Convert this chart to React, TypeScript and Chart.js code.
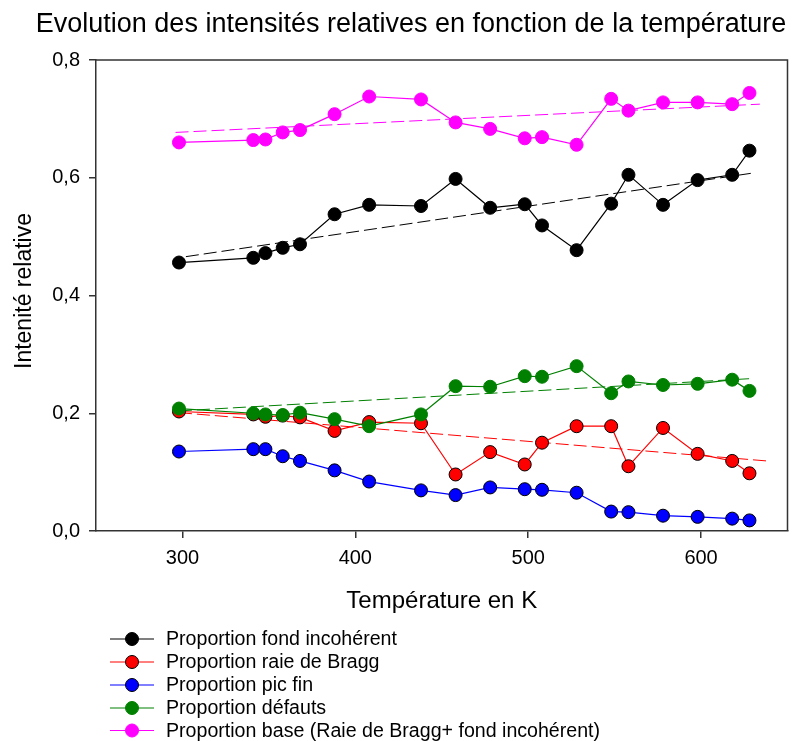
import React, { useEffect, useRef } from 'react';
import { Chart, registerables } from 'chart.js';

Chart.register(...registerables);

const FONT = '"Liberation Sans", Arial, Helvetica, sans-serif';

// Temperatures (K)
const temperatures = [298, 341, 348, 358, 368, 388, 408, 438, 458, 478, 498, 508, 528, 548, 558, 578, 598, 618, 628];

// Relative intensities
const fondIncoherent = [0.456, 0.464, 0.472, 0.481, 0.487, 0.538, 0.554, 0.552, 0.598, 0.549, 0.555, 0.519, 0.477, 0.556, 0.605, 0.554, 0.596, 0.605, 0.646];
const raieBragg = [0.203, 0.198, 0.194, 0.196, 0.193, 0.170, 0.185, 0.183, 0.096, 0.134, 0.113, 0.150, 0.178, 0.178, 0.110, 0.175, 0.131, 0.119, 0.098];
const picFin = [0.135, 0.139, 0.139, 0.127, 0.119, 0.103, 0.084, 0.069, 0.061, 0.074, 0.071, 0.070, 0.065, 0.033, 0.032, 0.026, 0.024, 0.021, 0.018];
const defauts = [0.208, 0.200, 0.198, 0.197, 0.201, 0.190, 0.178, 0.198, 0.246, 0.245, 0.263, 0.262, 0.280, 0.234, 0.254, 0.248, 0.250, 0.257, 0.238];
const base = [0.660, 0.664, 0.665, 0.677, 0.681, 0.708, 0.738, 0.733, 0.694, 0.683, 0.667, 0.669, 0.656, 0.734, 0.714, 0.728, 0.728, 0.725, 0.744];

// Dashed linear trend lines (end points)
const trendFondX = [302, 630];
const trendFondY = [0.466, 0.608];
const trendRaieX = [298, 638];
const trendRaieY = [0.201, 0.119];
const trendDefautsX = [298, 630];
const trendDefautsY = [0.204, 0.259];
const trendBaseX = [296, 634];
const trendBaseY = [0.677, 0.725];

// Axes
const xTickValues = [300, 400, 500, 600];
const yTickValues = [0, 0.2, 0.4, 0.6, 0.8];

const TITLE = 'Evolution des intensités relatives en fonction de la température';
const X_TITLE = 'Température en K';
const Y_TITLE = 'Intenité relative';

const seriesLabels = [
  'Proportion fond incohérent',
  'Proportion raie de Bragg',
  'Proportion pic fin',
  'Proportion défauts',
  'Proportion base (Raie de Bragg+ fond incohérent)',
];

export default function App() {
  const ref = useRef<HTMLCanvasElement>(null);

  useEffect(() => {
    document.body.style.margin = '0';
    const canvas = ref.current;
    if (!canvas) return;

    const pts = (ys: number[]) => temperatures.map((t, i) => ({ x: t, y: ys[i] }));
    const main = (label: string, ys: number[], color: string, border: string, order: number) => ({
      type: 'line',
      label,
      data: pts(ys),
      borderColor: color,
      backgroundColor: color,
      pointBackgroundColor: color,
      pointBorderColor: border,
      pointRadius: 6.5,
      pointBorderWidth: 1,
      borderWidth: 1.2,
      tension: 0,
      fill: false,
      order,
    });
    const trend = (xs: number[], ys: number[], color: string) => ({
      type: 'line',
      label: '',
      data: xs.map((x, i) => ({ x, y: ys[i] })),
      borderColor: color,
      backgroundColor: color,
      borderWidth: 1,
      borderDash: [13, 5],
      pointRadius: 0,
      tension: 0,
      fill: false,
      order: 100,
    });

    const datasets: any[] = [
      main(seriesLabels[0], fondIncoherent, '#000000', '#000000', 10),
      main(seriesLabels[1], raieBragg, '#ff0000', '#000000', 9),
      main(seriesLabels[2], picFin, '#0000ff', '#000000', 8),
      main(seriesLabels[3], defauts, '#008000', '#008000', 7),
      main(seriesLabels[4], base, '#ff00ff', '#ff00ff', 6),
      trend(trendFondX, trendFondY, '#000000'),
      trend(trendRaieX, trendRaieY, '#ff0000'),
      trend(trendDefautsX, trendDefautsY, '#008000'),
      trend(trendBaseX, trendBaseY, '#ff00ff'),
    ];

    const textPlugin = {
      id: 'customTexts',
      afterDraw(chart: any) {
        const c = chart.ctx as CanvasRenderingContext2D;
        const a = chart.chartArea;
        c.save();
        // frame
        c.strokeStyle = '#333333';
        c.lineWidth = 1.5;
        c.beginPath();
        c.moveTo(a.left, a.top);
        c.lineTo(a.right, a.top);
        c.lineTo(a.right, a.bottom);
        c.stroke();

        c.fillStyle = '#000000';
        c.textAlign = 'center';
        c.textBaseline = 'alphabetic';
        c.font = `27px ${FONT}`;
        c.fillText(TITLE, 411, 32);

        c.font = `24px ${FONT}`;
        c.fillText(X_TITLE, (a.left + a.right) / 2, 608);

        c.save();
        c.translate(31, 291);
        c.rotate(-Math.PI / 2);
        c.font = `23px ${FONT}`;
        c.fillText(Y_TITLE, 0, 0);
        c.restore();

        // legend
        const rows = [639, 662, 685, 708, 730.5];
        c.textAlign = 'left';
        c.textBaseline = 'middle';
        c.font = `19.6px ${FONT}`;
        for (let i = 0; i < 5; i++) {
          const ds = chart.data.datasets[i];
          const y = rows[i];
          c.strokeStyle = ds.borderColor;
          c.lineWidth = 1.2;
          c.beginPath();
          c.moveTo(110, y);
          c.lineTo(154, y);
          c.stroke();
          c.beginPath();
          c.arc(132, y, 6.5, 0, Math.PI * 2);
          c.fillStyle = ds.pointBackgroundColor;
          c.fill();
          c.lineWidth = 1;
          c.strokeStyle = ds.pointBorderColor;
          c.stroke();
          c.fillStyle = '#000000';
          c.fillText(ds.label, 166, y + 1);
        }
        c.restore();
      },
    };

    const chart = new Chart(canvas, {
      type: 'line',
      data: { datasets },
      options: {
        animation: false,
        responsive: false,
        devicePixelRatio: 1,
        layout: { padding: { top: 60, left: 0, right: 3, bottom: 110 } },
        plugins: {
          legend: { display: false },
          title: { display: false },
          tooltip: { enabled: false },
        },
        scales: {
          x: {
            type: 'linear',
            min: 250,
            max: 650,
            afterFit: (s: any) => { s.height = 100; },
            afterBuildTicks: (s: any) => { s.ticks = xTickValues.map((v) => ({ value: v })); },
            grid: { display: true, drawOnChartArea: false, drawTicks: true, tickLength: 7, color: '#333333', lineWidth: 1.5 },
            border: { display: true, color: '#333333', width: 1.5 },
            ticks: {
              color: '#000000',
              font: { family: FONT, size: 20 },
              padding: 8,
              maxRotation: 0,
              callback: (v: any) => String(v),
            },
          },
          y: {
            type: 'linear',
            min: 0,
            max: 0.8,
            afterFit: (s: any) => { s.width = 96; },
            afterBuildTicks: (s: any) => { s.ticks = yTickValues.map((v) => ({ value: v })); },
            grid: { display: true, drawOnChartArea: false, drawTicks: true, tickLength: 7, color: '#333333', lineWidth: 1.5 },
            border: { display: true, color: '#333333', width: 1.5 },
            ticks: {
              color: '#000000',
              font: { family: FONT, size: 20 },
              padding: 9,
              callback: (v: any) => Number(v).toFixed(1).replace('.', ','),
            },
          },
        },
      },
      plugins: [textPlugin],
    } as any);

    return () => chart.destroy();
  }, []);

  return <canvas ref={ref} width={795} height={741} style={{ display: 'block' }} />;
}
